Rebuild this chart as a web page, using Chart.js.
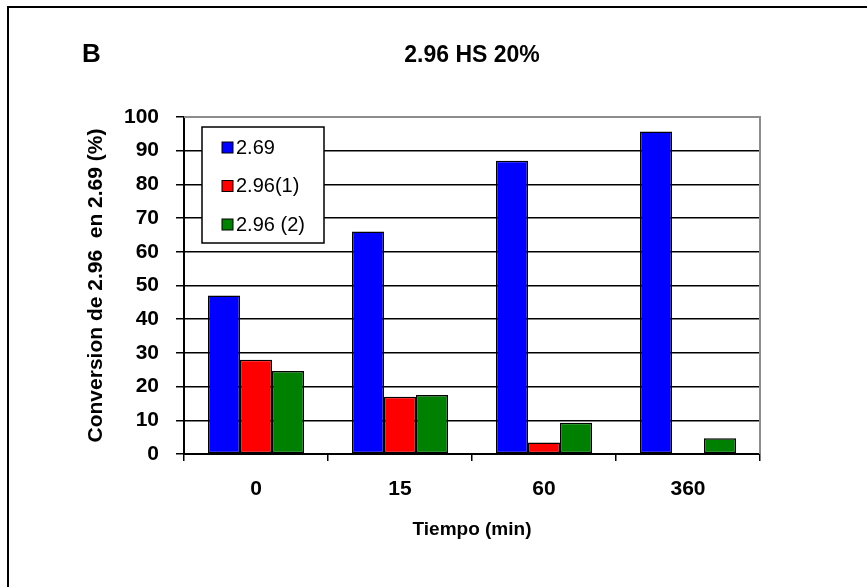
<!DOCTYPE html>
<html>
<head>
<meta charset="utf-8">
<script src="https://cdn.jsdelivr.net/npm/chart.js@4/dist/chart.umd.min.js"></script>
<style>
    html, body { margin: 0; padding: 0; background: #fff; }
    #wrap { width: 867px; height: 587px; }
</style>
</head>
<body>
<div id="wrap"><canvas id="chart" width="867" height="587"></canvas></div>
<script>
// Tiempos de medida y conversion de cada serie (%)
let tiempos = ['0', '15', '60', '360'];
let serie269 = [47, 66, 87, 95.7];
let serie296a = [28, 17, 3.4, null];
let serie296b = [24.6, 17.5, 9.3, 4.7];
let etiquetas = ['2.69', '2.96(1)', '2.96 (2)'];
let colores = ['#0000ff', '#ff0000', '#008000'];

let fuente = '"Liberation Sans", Arial, sans-serif';

// Marco, titulo, letra del panel y borde gris del area
let decoracion = {
    id: 'decoracion',
    beforeDatasetsDraw(chart) {
        let ctx = chart.ctx;
        let a = chart.chartArea;
        ctx.save();
        ctx.strokeStyle = '#8c8c8c';
        ctx.lineWidth = 2;
        ctx.beginPath();
        ctx.moveTo(a.left, a.top);
        ctx.lineTo(a.right, a.top);
        ctx.lineTo(a.right, a.bottom);
        ctx.stroke();
        ctx.restore();
    },
    afterDraw(chart) {
        let ctx = chart.ctx;
        let a = chart.chartArea;
        ctx.save();
        ctx.strokeStyle = '#000';
        ctx.lineWidth = 2;
        ctx.strokeRect(8, 7, 900, 620);

        ctx.fillStyle = '#000';
        ctx.textBaseline = 'alphabetic';
        ctx.font = 'bold 26px ' + fuente;
        ctx.textAlign = 'left';
        ctx.fillText('B', 82, 62);
        ctx.font = 'bold 23px ' + fuente;
        ctx.textAlign = 'center';
        ctx.fillText('2.96 HS 20%', (a.left + a.right) / 2, 62);

        // leyenda dentro del area
        let lx = 202, ly = 127, lw = 122, lh = 116;
        ctx.fillStyle = '#fff';
        ctx.fillRect(lx, ly, lw, lh);
        ctx.strokeStyle = '#000';
        ctx.lineWidth = 1.5;
        ctx.strokeRect(lx, ly, lw, lh);
        ctx.font = '20px ' + fuente;
        ctx.textAlign = 'left';
        ctx.textBaseline = 'middle';
        chart.data.datasets.forEach((ds, i) => {
            let y = 147 + i * 38.5;
            ctx.fillStyle = ds.backgroundColor;
            ctx.fillRect(222, y - 5, 11, 11);
            ctx.strokeStyle = '#000';
            ctx.lineWidth = 1;
            ctx.strokeRect(222, y - 5, 11, 11);
            ctx.fillStyle = '#000';
            ctx.fillText(ds.label, 236, y + 1);
        });
        ctx.restore();
    }
};

let datasets = [serie269, serie296a, serie296b].map((valores, i) => ({
    label: etiquetas[i],
    data: valores,
    backgroundColor: colores[i],
    borderColor: '#000',
    borderWidth: 1.5,
    borderSkipped: false,
    categoryPercentage: 0.667,
    barPercentage: 1.0
}));

let config = {
    type: 'bar',
    data: { labels: tiempos, datasets: datasets },
    options: {
        responsive: false,
        animation: false,
        layout: { padding: { left: 80, right: 107, top: 117, bottom: 42 } },
        plugins: {
            legend: { display: false },
            tooltip: { enabled: false }
        },
        scales: {
            x: {
                afterFit: (s) => { s.height = 91; },
                grid: {
                    drawOnChartArea: false,
                    drawTicks: true,
                    tickLength: 7,
                    color: '#000',
                    lineWidth: 1.5
                },
                border: { color: '#000', width: 2 },
                ticks: {
                    color: '#000',
                    padding: 16,
                    font: { family: fuente, size: 21, weight: 'bold' }
                },
                title: {
                    display: true,
                    text: 'Tiempo (min)',
                    color: '#000',
                    font: { family: fuente, size: 19, weight: 'bold' }
                }
            },
            y: {
                min: 0,
                max: 100,
                afterFit: (s) => { s.width = 104; },
                grid: {
                    color: (c) => c.tick && c.tick.value === 100 ? 'rgba(0,0,0,0)' : '#000',
                    tickColor: '#000',
                    lineWidth: 1.5,
                    tickLength: 8
                },
                border: { color: '#000', width: 2 },
                ticks: {
                    stepSize: 10,
                    color: '#000',
                    padding: 17,
                    font: { family: fuente, size: 21, weight: 'bold' }
                },
                title: {
                    display: true,
                    text: 'Conversion de 2.96  en 2.69 (%)',
                    color: '#000',
                    font: { family: fuente, size: 21, weight: 'bold' }
                }
            }
        }
    },
    plugins: [decoracion]
};

new Chart(document.getElementById('chart'), config);
</script>
</body>
</html>
